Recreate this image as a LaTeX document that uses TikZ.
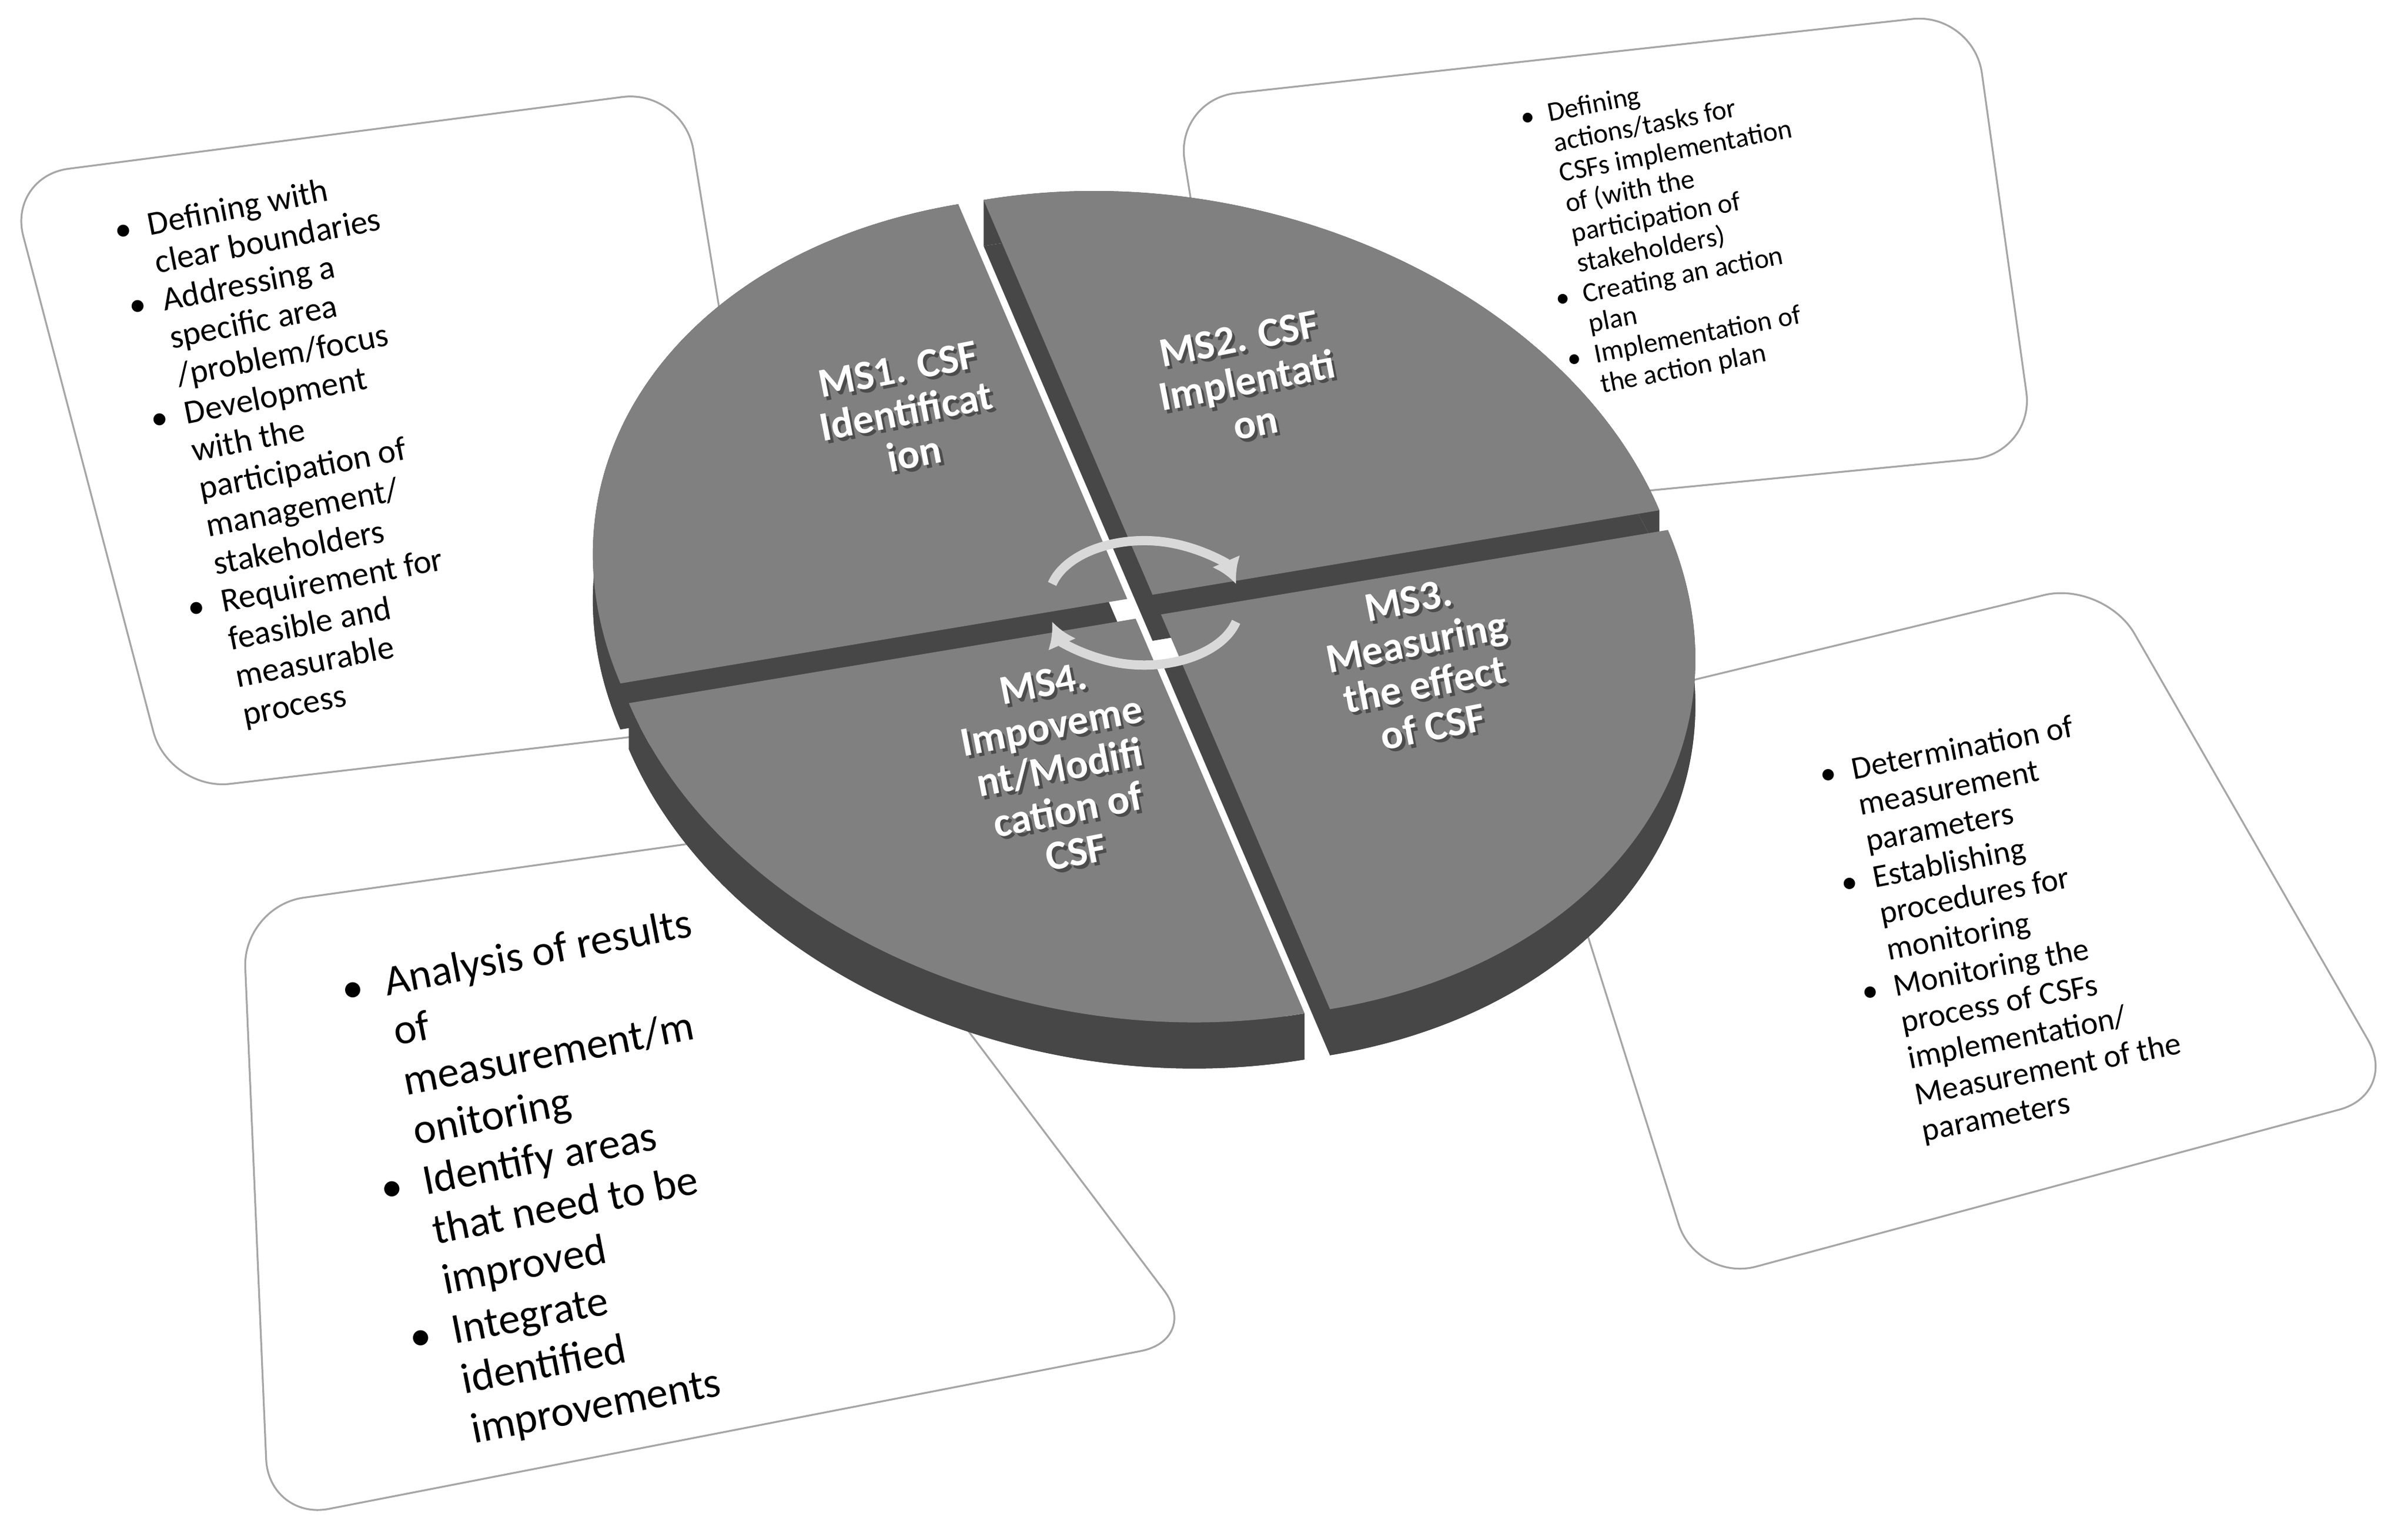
\documentclass[tikz,border=0pt]{standalone}
\usepackage{fontspec}
\setmainfont{Carlito}
\usepackage{tikz}
\usetikzlibrary{arrows.meta}
\tikzset{
  card/.style={draw=gray!70,line width=1.2pt,fill=white,rounded corners=40pt},
  notes/.style={align=left,rotate=11,inner sep=0pt},
  ms/.style={text=white,font=\bfseries\fontsize{27}{28}\selectfont,align=center,rotate=11},
  msshadow/.style={text=black!70,font=\bfseries\fontsize{27}{28}\selectfont,align=center,rotate=11},
  cyc/.style={line width=6pt,gray!30,-{Latex[length=16pt,width=20pt]}}
}
\newcommand{\pt}[1]{\makebox[1em][l]{\textbullet}#1}
\begin{document}
\begin{tikzpicture}[x=1pt,y=-1pt]
  \useasboundingbox (0,0) rectangle (1568,996);
  % cards
  \draw[card] (5,115) -- (445,58) -- (512,468) -- (110,515) -- cycle;
  \draw[card] (765,65) -- (1285,8) -- (1325,295) -- (810,345) -- cycle;
  \draw[card] (990,470) -- (1370,378) -- (1562,712) -- (1105,835) -- cycle;
  \draw[card] (158,590) -- (530,538) -- (782,872) -- (175,990) -- cycle;
  % disc
  \begin{scope}[x={(330pt,55pt)},y={(110pt,-257pt)},shift={(745pt,-395pt)}]
    \foreach \a/\dx/\dy in {180/-1/-1,270/1/-1,0/1/1,90/-1/1}{
      \begin{scope}[shift={(0.025*\dx,0.025*\dy)}]
        \fill[black!72,yshift=-30pt] (0,0) -- (\a:1) arc (\a:\a+90:1) -- cycle;
        \fill[black!72] (\a:1) arc (\a:\a+90:1) -- ([yshift=-30pt]\a+90:1) arc (\a+90:\a:1) -- cycle;
        \fill[black!50] (0,0) -- (\a:1) arc (\a:\a+90:1) -- cycle;
      \end{scope}
    }
  \end{scope}
  % cycle arrow
  \draw[cyc] (745,390) ++(195:62 and 38) arc (195:345:62 and 38);
  \draw[cyc] (745,395) ++(15:62 and 38) arc (15:165:62 and 38);
  % disc labels
  \foreach \n/\x/\y/\t in {ms1/590/268/{MS1. CSF\\Identificat\\ion},
                           ms2/812/248/{MS2. CSF\\Implentati\\on},
                           ms3/925/432/{MS3.\\Measuring\\the effect\\of CSF},
                           ms4/690/500/{MS4.\\Impoveme\\nt/Modifi\\cation of\\CSF}}{
    \node[msshadow] at (\x+2,\y+2) {\t};
    \node[ms] (\n) at (\x,\y) {\t};
  }
  % card texts
  \node[notes,font=\fontsize{22}{25}\selectfont] (tl) at (190,295) {%
    \pt{Defining with}\\ \hspace{1em}clear boundaries\\
    \pt{Addressing a}\\ \hspace{1em}specific area\\ \hspace{1em}/problem/focus\\
    \pt{Development}\\ \hspace{1em}with the\\ \hspace{1em}participation of\\ \hspace{1em}management/\\ \hspace{1em}stakeholders\\
    \pt{Requirement for}\\ \hspace{1em}feasible and\\ \hspace{1em}measurable\\ \hspace{1em}process};
  \node[notes,font=\fontsize{18}{20}\selectfont] (tr) at (1092,150) {%
    \pt{Defining}\\ \hspace{1em}actions/tasks for\\ \hspace{1em}CSFs implementation\\ \hspace{1em}of (with the\\ \hspace{1em}participation of\\ \hspace{1em}stakeholders)\\
    \pt{Creating an action}\\ \hspace{1em}plan\\
    \pt{Implementation of}\\ \hspace{1em}the action plan};
  \node[notes,font=\fontsize{21}{24}\selectfont] (br) at (1305,605) {%
    \pt{Determination of}\\ \hspace{1em}measurement\\ \hspace{1em}parameters\\
    \pt{Establishing}\\ \hspace{1em}procedures for\\ \hspace{1em}monitoring\\
    \pt{Monitoring the}\\ \hspace{1em}process of CSFs\\ \hspace{1em}implementation/\\ \hspace{1em}Measurement of the\\ \hspace{1em}parameters};
  \node[notes,font=\fontsize{28}{33}\selectfont] (bl) at (365,770) {%
    \pt{Analysis of results}\\ \hspace{1em}of\\ \hspace{1em}measurement/m\\ \hspace{1em}onitoring\\
    \pt{Identify areas}\\ \hspace{1em}that need to be\\ \hspace{1em}improved\\
    \pt{Integrate}\\ \hspace{1em}identified\\ \hspace{1em}improvements};
\end{tikzpicture}
\end{document}
